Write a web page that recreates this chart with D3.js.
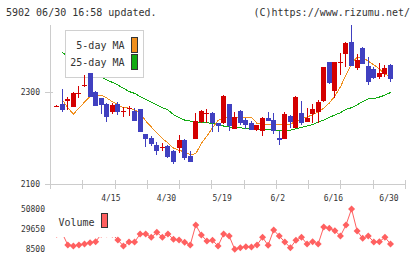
<!DOCTYPE html>
<html><head><meta charset="utf-8">
<script src="https://cdn.jsdelivr.net/npm/d3@7"></script>
<style>
html,body{margin:0;padding:0;background:#fff;}
svg{display:block;}
text{font-family:"DejaVu Sans Mono",monospace;fill:#333;}
</style></head><body>
<svg id="c" width="420" height="259"></svg>
<script>
const dates = ["4/1","4/2","4/5","4/6","4/7","4/8","4/9","4/12","4/13","4/14","4/15","4/16","4/19","4/20","4/21","4/22","4/23","4/26","4/27","4/28","4/30",
"5/6","5/7","5/10","5/11","5/12","5/13","5/14","5/17","5/18","5/19","5/20","5/21","5/24","5/25","5/26","5/27","5/28","5/31",
"6/1","6/2","6/3","6/4","6/7","6/8","6/9","6/10","6/11","6/14","6/15","6/16","6/17","6/18","6/21","6/22","6/23","6/24","6/25","6/28","6/29","6/30"];
const open  = [2270,2275,2280,2268,2295,2312,2341,2301,2287,2275,2257,2275,2256,2263,2259,2263,2208,2200,2185,2179,2183,2172,2179,2196,2161,2198,2235,2253,2255,2232,2232,2274,2220,2259,2239,2233,2217,2216,2244,2239,2201,2198,2248,2222,2254,2235,2252,2257,2280,2365,2303,2363,2383,2409,2353,2396,2357,2350,2333,2339,2359];
const high  = [2271,2307,2290,2299,2312,2337,2342,2302,2288,2277,2277,2279,2267,2269,2265,2264,2209,2205,2192,2189,2184,2173,2207,2197,2172,2255,2261,2262,2257,2233,2293,2275,2257,2260,2243,2236,2229,2245,2257,2255,2215,2257,2249,2291,2280,2265,2274,2283,2355,2366,2366,2385,2409,2446,2383,2398,2376,2355,2362,2359,2361];
const low   = [2269,2257,2261,2267,2286,2310,2289,2269,2252,2235,2252,2249,2246,2248,2237,2212,2181,2183,2163,2171,2157,2143,2167,2153,2147,2197,2233,2233,2214,2212,2231,2215,2219,2228,2219,2217,2216,2205,2236,2209,2185,2197,2221,2221,2228,2234,2233,2233,2279,2317,2286,2338,2354,2356,2348,2360,2315,2328,2328,2333,2322];
const close = [2270,2260,2284,2298,2298,2315,2290,2270,2272,2246,2272,2257,2258,2265,2238,2214,2197,2187,2172,2181,2158,2148,2196,2157,2148,2237,2259,2255,2232,2226,2292,2226,2246,2233,2229,2218,2228,2244,2237,2216,2196,2252,2235,2290,2232,2244,2263,2278,2354,2320,2365,2366,2407,2357,2370,2361,2322,2331,2342,2352,2328];
const ma5   = [null,2283,2266,2252,2265,2278,2290,2293,2293,2287,2279,2272,2266,2265,2261,2254,2237,2224,2211,2199,2189,2178,2173,2170,2164,2166,2188,2204,2222,2238,2245,2245,2245,2245,2245,2245,2232,2229,2229,2229,2229,2229,2230,2237,2241,2246,2250,2257,2265,2276,2291,2311,2337,2361,2376,2376,2367,2359,2350,2339,2333];
const ma25  = [null,2386,2378,2371,2362,2354,2348,2339,2333,2326,2321,2315,2308,2301,2297,2290,2284,2278,2272,2266,2261,2251,2244,2239,2237,2235,2234,2233,2232,2229,2226,2224,2223,2222,2221,2220,2218,2218,2218,2217,2217,2217,2217,2220,2223,2226,2229,2235,2239,2245,2250,2255,2262,2266,2272,2279,2285,2286,2289,2293,2299];
const volume = [24000,25100,12730,11670,12730,13790,15160,16220,24000,24360,24000,18020,11670,15900,15900,24360,24360,20870,26160,20870,24360,18760,18020,15590,12730,33880,23310,16960,17700,11670,24360,22250,8200,9880,10930,10620,12730,20870,12410,28590,22250,15900,9880,17700,20870,13790,16220,13790,31770,30390,27850,22250,33880,50800,27540,19820,22250,15900,16220,20870,13790];
const dateTicks = ["4/15","4/30","5/19","6/2","6/16","6/30"];
const priceTicks = [2100, 2300];
const volumeTicks = [50800, 29650, 8500];
const legendItems = ["5-day MA", "25-day MA"];
const title = "5902 06/30 16:58 updated.";
const credit = "(C)https://www.rizumu.net/";

const C = {red:"#d40000", blue:"#4040c0", ma5:"#f0901e", ma25:"#11aa11", vol:"#ff6060", axis:"#cccccc"};
const svg = d3.select("#c");

const x = d3.scalePoint().domain(dates).range([56.7, 390.5]);
const y = d3.scaleLinear().domain([2100, 2300]).range([184, 92]);
const vy = d3.scaleLinear().domain([8500, 50800]).range([249, 209]);
const grid = d3.scaleLinear().domain([0, 11]).range([50, 405]);

// header
svg.append("text").attr("x", 6).attr("y", 16).attr("font-size", 10).text(title);
svg.append("text").attr("x", 410).attr("y", 16).attr("font-size", 10).attr("text-anchor", "end").text(credit);

// axes
const ax = svg.append("g").attr("stroke", C.axis).attr("shape-rendering", "crispEdges");
ax.append("line").attr("x1", 50.5).attr("x2", 50.5).attr("y1", 25).attr("y2", 189);
ax.append("line").attr("x1", 45).attr("x2", 406).attr("y1", y(2100) + 0.5).attr("y2", y(2100) + 0.5);
ax.append("line").attr("x1", 45).attr("x2", 53).attr("y1", y(2300) + 0.5).attr("y2", y(2300) + 0.5);
ax.selectAll(".gt").data(d3.range(12)).join("line")
  .attr("x1", d => Math.round(grid(d)) + 0.5).attr("x2", d => Math.round(grid(d)) + 0.5)
  .attr("y1", 180).attr("y2", 189);

svg.selectAll(".pl").data(priceTicks).join("text")
  .attr("x", 40).attr("y", d => y(d) + 3).attr("font-size", 8).attr("text-anchor", "end").text(d => d);
svg.selectAll(".dl").data(dateTicks).join("text")
  .attr("x", d => x(d) - 1.5).attr("y", 200.5).attr("font-size", 8).attr("text-anchor", "middle").text(d => d);

// moving averages
const idx = d3.range(dates.length);
const mkLine = arr => d3.line().defined(i => arr[i] != null).x(i => x(dates[i])).y(i => y(arr[i]))(idx);
svg.append("path").attr("d", mkLine(ma25)).attr("fill", "none").attr("stroke", C.ma25).attr("stroke-width", 1).attr("shape-rendering", "crispEdges");
svg.append("path").attr("d", mkLine(ma5)).attr("fill", "none").attr("stroke", C.ma5).attr("stroke-width", 1).attr("shape-rendering", "crispEdges");

// MA legend
const lg = svg.append("g");
lg.append("rect").attr("x", 65.5).attr("y", 30.5).attr("width", 78).attr("height", 47).attr("fill", "#fff").attr("stroke", "#d0d0d0");
lg.selectAll("text").data(legendItems).join("text")
  .attr("x", 124.5).attr("y", (d, i) => 49 + i * 17).attr("font-size", 10).attr("text-anchor", "end").text(d => d);
lg.selectAll(".sw").data([C.ma5, C.ma25]).join("rect")
  .attr("x", 131.5).attr("y", (d, i) => 37.5 + i * 16.5).attr("width", 6).attr("height", 15)
  .attr("fill", d => d).attr("stroke", "#333").attr("shape-rendering", "crispEdges");

// candles
const cg = svg.append("g").attr("shape-rendering", "crispEdges");
idx.forEach(i => {
  const up = close[i] >= open[i];
  const col = up ? C.red : C.blue;
  const bx = Math.round(x(dates[i]) - 2.5);
  const hy = Math.round(y(high[i])), ly = Math.round(y(low[i]));
  cg.append("rect").attr("x", bx + 2).attr("y", hy).attr("width", 1).attr("height", Math.max(1, ly - hy)).attr("fill", col);
  const t = Math.round(y(Math.max(open[i], close[i]))), b = Math.round(y(Math.min(open[i], close[i])));
  cg.append("rect").attr("x", bx).attr("y", t).attr("width", 5).attr("height", Math.max(1, b - t)).attr("fill", col);
});

// volume
svg.append("path").attr("d", d3.line().x(i => x(dates[i])).y(i => vy(volume[i]))(idx))
  .attr("fill", "none").attr("stroke", C.vol).attr("stroke-width", 1);
svg.selectAll(".vd").data(idx).join("path")
  .attr("d", "M0,-3.5L3.5,0L0,3.5L-3.5,0Z")
  .attr("transform", i => `translate(${x(dates[i])},${vy(volume[i])})`)
  .attr("fill", C.vol);
svg.append("rect").attr("x", 52).attr("y", 203).attr("width", 64).attr("height", 34).attr("fill", "#fff");
svg.append("text").attr("x", 58.5).attr("y", 226).attr("font-size", 10).text("Volume");
svg.append("rect").attr("x", 101.5).attr("y", 213.5).attr("width", 6).attr("height", 14)
  .attr("fill", C.vol).attr("stroke", "#333").attr("shape-rendering", "crispEdges");
svg.selectAll(".vl").data(volumeTicks).join("text")
  .attr("x", 45).attr("y", d => vy(d) + 3).attr("font-size", 8).attr("text-anchor", "end").text(d => d);
</script>
</body></html>
